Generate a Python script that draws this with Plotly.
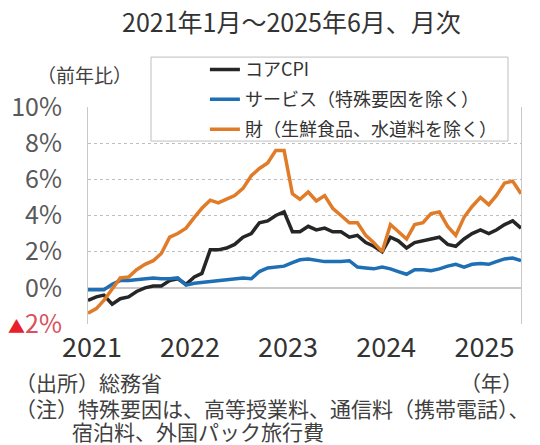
import plotly.graph_objects as go

# monthly, Jan 2021 - Jun 2025
months = [f"{y}-{m:02d}-01" for y in range(2021, 2026) for m in range(1, 13)][:54]

core_cpi = [-0.7, -0.5, -0.4, -0.9, -0.6, -0.5, -0.2, 0.0, 0.1, 0.1, 0.4, 0.5,
            0.2, 0.6, 0.8, 2.1, 2.1, 2.2, 2.4, 2.8, 3.0, 3.6, 3.7, 4.0,
            4.2, 3.1, 3.1, 3.4, 3.2, 3.3, 3.1, 3.1, 2.8, 2.9, 2.5, 2.3,
            2.0, 2.8, 2.6, 2.2, 2.5, 2.6, 2.7, 2.8, 2.4, 2.3, 2.7, 3.0,
            3.2, 3.0, 3.2, 3.5, 3.7, 3.3]

services = [-0.1, -0.1, -0.1, 0.2, 0.4, 0.4, 0.45, 0.5, 0.55, 0.5, 0.5, 0.55,
            0.15, 0.25, 0.3, 0.35, 0.4, 0.45, 0.5, 0.55, 0.5, 0.9, 1.1, 1.15,
            1.2, 1.4, 1.55, 1.6, 1.55, 1.45, 1.45, 1.45, 1.5, 1.15, 1.1, 1.05,
            1.15, 1.05, 0.9, 0.75, 1.0, 1.0, 0.95, 1.05, 1.2, 1.3, 1.15, 1.3,
            1.35, 1.3, 1.45, 1.6, 1.65, 1.5]

goods = [-1.4, -1.15, -0.7, -0.1, 0.55, 0.6, 1.0, 1.3, 1.5, 1.9, 2.8, 3.0,
         3.3, 3.9, 4.4, 4.85, 4.7, 4.9, 5.1, 5.5, 6.2, 6.6, 6.9, 7.6,
         7.6, 5.2, 4.9, 5.3, 4.8, 5.1, 4.4, 4.0, 3.6, 3.6, 2.9, 2.5,
         2.0, 3.5, 3.1, 2.7, 3.5, 3.6, 4.1, 4.2, 3.4, 2.9, 3.9, 4.5,
         5.0, 4.6, 5.1, 5.8, 5.9, 5.2]

names = ["コアCPI", "サービス（特殊要因を除く）", "財（生鮮食品、水道料を除く）"]
colors = ["#262626", "#1f6fb4", "#e07b28"]

y_ticks = [-2, 0, 2, 4, 6, 8, 10]
y_labels = ["<span style='color:#e8202a;font-size:17px'>▲</span><span style='color:#d9505a'>2%</span>",
            "0%", "2%", "4%", "6%", "8%", "10%"]

font = "Noto Sans CJK JP"

fig = go.Figure()
for i, series in enumerate([core_cpi, services, goods]):
    fig.add_trace(go.Scatter(x=months, y=series, mode="lines", name=names[i],
                             legendgroup=str(i),
                             line=dict(color=colors[i], width=3.5)))

# page body has an 8px margin, so the figure is 8px smaller
fig.update_layout(
    width=532, height=437,
    margin=dict(l=80, r=19, t=99, b=121),
    paper_bgcolor="white", plot_bgcolor="white",
    font=dict(family=font, color="#404040"),
    showlegend=True,
    legend=dict(x=0.27, y=1.257, xanchor="left", yanchor="top",
                bgcolor="rgba(0,0,0,0)", font=dict(size=18, color="#333333"),
                tracegroupgap=3.5),
)

fig.update_xaxes(type="date", range=["2021-01-01", "2025-06-01"],
                 tick0="2021-01-01", dtick="M12", tickformat="%Y",
                 showgrid=False, ticks="", ticklabelstandoff=5, ticklabelshift=4,
                 automargin=False,
                 tickfont=dict(size=27, color="#333333"))
fig.update_yaxes(range=[-2, 10], tickvals=y_ticks, ticktext=y_labels,
                 showgrid=True, gridcolor="#bfbfbf", griddash="dot", gridwidth=1,
                 zeroline=True, zerolinecolor="#c8c8c8", zerolinewidth=1.5,
                 showline=True, mirror=True, linecolor="#c8c8c8", linewidth=1,
                 ticks="", ticklabelstandoff=20, automargin=False,
                 tickfont=dict(size=25, color="#595959"))

# legend frame
fig.add_shape(type="rect", xref="paper", yref="paper",
              x0=0.1455, x1=0.970, y0=0.843, y1=1.230,
              line=dict(color="#bfbfbf", width=1), fillcolor="white", layer="above")

notes_font = dict(size=21, color="#404040")
fig.add_annotation(text="2021年1月～2025年6月、月次", xref="paper", yref="paper",
                   x=0.471, y=1.395, xanchor="center", yanchor="middle",
                   showarrow=False, font=dict(size=25, color="#333333"))
fig.add_annotation(text="（前年比）", xref="paper", yref="paper",
                   x=-0.123, y=1.152, xanchor="left", yanchor="middle",
                   showarrow=False, font=dict(size=19, color="#404040"))
fig.add_annotation(text="（出所）総務省", xref="paper", yref="paper",
                   x=-0.174, y=-0.267, xanchor="left", yanchor="middle",
                   showarrow=False, font=notes_font)
fig.add_annotation(text="（年）", xref="paper", yref="paper",
                   x=1.009, y=-0.267, xanchor="right", yanchor="middle",
                   showarrow=False, font=notes_font)
fig.add_annotation(text="（注）特殊要因は、高等授業料、通信料（携帯電話）、", xref="paper", yref="paper",
                   x=-0.174, y=-0.387, xanchor="left", yanchor="middle",
                   showarrow=False, font=notes_font)
fig.add_annotation(text="宿泊料、外国パック旅行費", xref="paper", yref="paper",
                   x=-0.0416, y=-0.493, xanchor="left", yanchor="middle",
                   showarrow=False, font=notes_font)

fig.write_html("out.html")
